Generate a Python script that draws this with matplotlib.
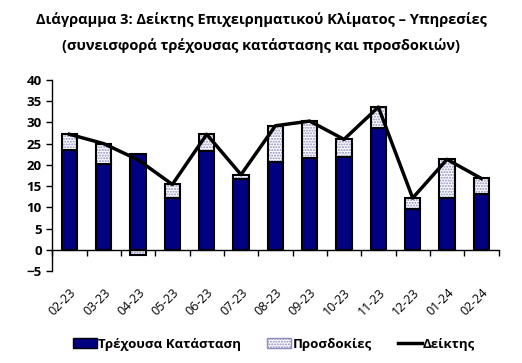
import matplotlib
matplotlib.use("Agg")
import matplotlib.pyplot as plt
from matplotlib.patches import Patch
from matplotlib.lines import Line2D
import numpy as np

plt.rcParams["font.family"] = ["Open Sans", "DejaVu Sans"]

# δεδομένα
months = ["02-23", "03-23", "04-23", "05-23", "06-23", "07-23", "08-23",
          "09-23", "10-23", "11-23", "12-23", "01-24", "02-24"]
current = [23.5, 20.3, 22.5, 12.2, 23.3, 16.6, 20.7, 21.6, 21.8, 28.7, 9.6, 12.3, 13.1]
expect = [3.7, 4.7, -1.3, 3.2, 3.9, 1.1, 8.5, 8.7, 4.2, 4.9, 2.6, 9.0, 3.7]
index = [27.2, 25.0, 21.2, 15.4, 27.2, 17.7, 29.2, 30.3, 26.0, 33.6, 12.2, 21.3, 16.8]

navy = "#000080"
x = np.arange(len(months))
w = 0.45
cur = np.array(current)
exp_ = np.array(expect)
bottoms = np.where(exp_ >= 0, cur, 0)

fig = plt.figure(figsize=(5.22, 3.63), dpi=100)
ax = fig.add_axes([0.10, 0.253, 0.855, 0.527])

ax.bar(x, cur, w, color=navy, edgecolor="black", linewidth=1.5, zorder=2)
# προσδοκίες: πρώτα το μοτίβο, μετά το περίγραμμα
ax.bar(x, exp_, w, bottom=bottoms, color="white", edgecolor="#8c8cc0",
       hatch="......", linewidth=0, zorder=2)
ax.bar(x, exp_, w, bottom=bottoms, fill=False, edgecolor="black",
       linewidth=1.5, zorder=3)
ax.plot(x, index, color="black", linewidth=2.5, zorder=4)

ax.set_xlim(-0.5, len(months) - 0.5)
ax.set_ylim(-5, 40)
ax.set_yticks(range(-5, 41, 5))
ax.tick_params(axis="y", labelsize=9.5, length=4, width=1, direction="out")
for t in ax.get_yticklabels():
    t.set_fontweight("bold")

ax.spines["top"].set_visible(False)
ax.spines["right"].set_visible(False)
ax.spines["bottom"].set_position(("data", 0))
ax.spines["left"].set_linewidth(1)
ax.spines["bottom"].set_linewidth(1)

ax.set_xticks(x)
ax.set_xticklabels(months, rotation=45, ha="right", rotation_mode="anchor",
                   fontsize=9)
ax.tick_params(axis="x", which="major", length=0, pad=26)
ax.set_xticks(np.arange(-0.5, len(months), 1), minor=True)
ax.tick_params(axis="x", which="minor", length=4, width=1, direction="out")

fig.text(0.5, 0.945, "Διάγραμμα 3: Δείκτης Επιχειρηματικού Κλίματος – Υπηρεσίες",
         ha="center", va="center", fontsize=10.5, fontweight="bold")
fig.text(0.5, 0.875, "(συνεισφορά τρέχουσας κατάστασης και προσδοκιών)",
         ha="center", va="center", fontsize=10.5, fontweight="bold")

handles = [
    Patch(facecolor=navy, edgecolor="black", linewidth=1),
    Patch(facecolor="white", edgecolor="#8c8cc0", hatch="......"),
    Line2D([0], [0], color="black", linewidth=2.5),
]
labels = ["Τρέχουσα Κατάσταση", "Προσδοκίες", "Δείκτης"]
fig.legend(handles, labels, loc="center", bbox_to_anchor=(0.525, 0.052), ncol=3,
           frameon=False, handlelength=1.8, handletextpad=0.1,
           columnspacing=2.0, prop={"weight": "bold", "size": 9.5})

fig.savefig("out.png", dpi=100)
